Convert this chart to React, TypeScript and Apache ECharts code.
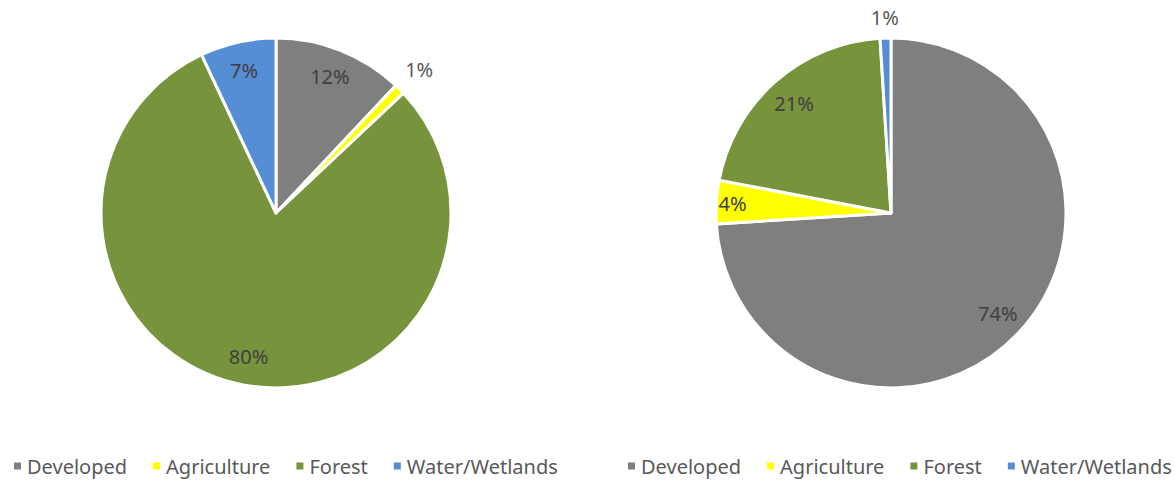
import React, { useEffect, useRef } from "react";
import * as echarts from "echarts";

const categories = ["Developed", "Agriculture", "Forest", "Water/Wetlands"];
const colors = ["#7F7F7F", "#FFFF00", "#77933C", "#558ED5"];
const leftValues = [12, 1, 80, 7];
const rightValues = [74, 4, 21, 1];
// radial position of each label as a fraction of the pie radius
const leftLabelRadius = [0.82, 1.14, 0.82, 0.82];
const rightLabelRadius = [0.82, 0.89, 0.82, 1.1];

const R = 175;
const FONT = "'Noto Sans', sans-serif";

function buildPie(values: number[], labelR: number[], center: [number, number]) {
  const series: any[] = [];
  series.push({
    type: "pie",
    center,
    radius: [0, R],
    startAngle: 90,
    clockwise: true,
    avoidLabelOverlap: false,
    label: { show: false },
    labelLine: { show: false },
    emphasis: { disabled: true },
    itemStyle: { borderColor: "#ffffff", borderWidth: 3 },
    data: values.map((v, i) => ({
      name: categories[i],
      value: v,
      itemStyle: { color: colors[i] },
    })),
  });
  const fracs = Array.from(new Set(labelR));
  fracs.forEach((f) => {
    series.push({
      type: "pie",
      center,
      radius: [(f - 0.08) * R, (f + 0.08) * R],
      startAngle: 90,
      clockwise: true,
      silent: true,
      avoidLabelOverlap: false,
      emphasis: { disabled: true },
      labelLine: { show: false },
      itemStyle: { color: "rgba(0,0,0,0)", borderWidth: 0 },
      data: values.map((v, i) => ({
        name: categories[i],
        value: v,
        itemStyle: { color: "rgba(0,0,0,0)" },
        label: {
          show: labelR[i] === f,
          position: "inside",
          formatter: () => `${v}%`,
          color: f > 1 ? "#595959" : "#404040",
          fontSize: 20,
          fontFamily: FONT,
        },
      })),
    });
  });
  return series;
}

export default function App() {
  const ref = useRef<HTMLDivElement>(null);
  useEffect(() => {
    if (!ref.current) return;
    const chart = echarts.init(ref.current, undefined, { renderer: "svg" });
    const legendBase = {
      data: categories,
      icon: "rect",
      itemWidth: 9,
      itemHeight: 9,
      itemGap: 24,
      top: 456,
      padding: 0,
      width: 560,
      selectedMode: false,
      textStyle: { color: "#595959", fontSize: 20, fontFamily: FONT },
    };
    chart.setOption({
      animation: false,
      backgroundColor: "#ffffff",
      legend: [
        { ...legendBase, left: 12 },
        { ...legendBase, left: 626 },
      ],
      series: [
        ...buildPie(leftValues, leftLabelRadius, [276, 213]),
        ...buildPie(rightValues, rightLabelRadius, [891, 213]),
      ],
    });
    return () => chart.dispose();
  }, []);
  return (
    <div
      ref={ref}
      style={{ position: "fixed", left: 0, top: 0, width: 1175, height: 483 }}
    />
  );
}
